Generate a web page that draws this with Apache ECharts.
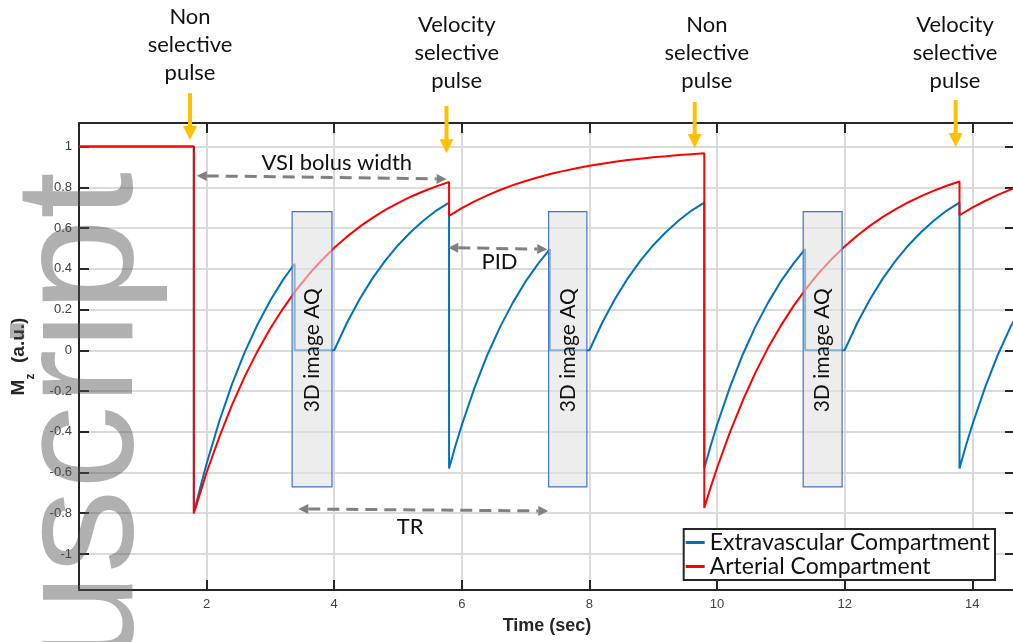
<!DOCTYPE html>
<html>
<head>
<meta charset="utf-8">
<script src="https://cdn.jsdelivr.net/npm/echarts@6/dist/echarts.min.js"></script>
<style>
html, body { margin: 0; padding: 0; background: #fff; }
#main { width: 1013px; height: 642px; }
</style>
</head>
<body>
<div id="main"></div>
<script>
// arterial compartment (red)
const arterialTime = [
    0, 1.8,
    1.8, 1.9, 2.0, 2.2, 2.4, 2.6, 2.8, 3.0, 3.2, 3.4, 3.6, 3.8, 4.0, 4.2, 4.4, 4.6, 4.8, 5.0, 5.2, 5.4, 5.6, 5.8,
    5.8, 6.0, 6.2, 6.4, 6.6, 6.8, 7.0, 7.2, 7.4, 7.6, 7.8, 8.0, 8.2, 8.4, 8.6, 8.8, 9.0, 9.2, 9.4, 9.6, 9.8,
    9.8, 9.9, 10.0, 10.2, 10.4, 10.6, 10.8, 11.0, 11.2, 11.4, 11.6, 11.8, 12.0, 12.2, 12.4, 12.6, 12.8, 13.0, 13.2, 13.4, 13.6, 13.8,
    13.8, 14.0, 14.2, 14.4, 14.6, 14.7
];
const arterialMz = [
    1, 1,
    -0.80, -0.70, -0.60, -0.425, -0.267, -0.127, -0.003, 0.108, 0.206, 0.294, 0.372, 0.441, 0.503, 0.558, 0.607, 0.650, 0.689, 0.723, 0.754, 0.781, 0.805, 0.826,
    0.66, 0.698, 0.731, 0.761, 0.787, 0.811, 0.831, 0.850, 0.867, 0.881, 0.894, 0.906, 0.916, 0.926, 0.934, 0.941, 0.948, 0.953, 0.959, 0.963, 0.967,
    -0.774, -0.673, -0.578, -0.404, -0.249, -0.111, 0.012, 0.121, 0.218, 0.304, 0.381, 0.449, 0.510, 0.564, 0.612, 0.655, 0.693, 0.727, 0.757, 0.784, 0.808, 0.829,
    0.663, 0.700, 0.733, 0.763, 0.789, 0.80
];

// extravascular compartment (blue)
const extraTime = [
    0, 1.8,
    1.8, 1.9, 2.0, 2.2, 2.4, 2.6, 2.8, 3.0, 3.2, 3.38,
    3.38, 4.0,
    4.2, 4.4, 4.6, 4.8, 5.0, 5.2, 5.4, 5.6, 5.8,
    5.8, 5.9, 6.0, 6.2, 6.4, 6.6, 6.8, 7.0, 7.2, 7.38,
    7.38, 8.0,
    8.2, 8.4, 8.6, 8.8, 9.0, 9.2, 9.4, 9.6, 9.8,
    9.8, 9.9, 10.0, 10.2, 10.4, 10.6, 10.8, 11.0, 11.2, 11.38,
    11.38, 12.0,
    12.2, 12.4, 12.6, 12.8, 13.0, 13.2, 13.4, 13.6, 13.8,
    13.8, 13.9, 14.0, 14.2, 14.4, 14.6, 14.7
];
const extraMz = [
    1, 1,
    -0.80, -0.674, -0.557, -0.347, -0.165, -0.008, 0.128, 0.246, 0.347, 0.425,
    0, 0,
    0.135, 0.252, 0.353, 0.440, 0.516, 0.581, 0.637, 0.686, 0.725,
    -0.58, -0.469, -0.367, -0.183, -0.023, 0.115, 0.234, 0.338, 0.427, 0.497,
    0, 0,
    0.135, 0.252, 0.353, 0.440, 0.516, 0.581, 0.637, 0.686, 0.725,
    -0.58, -0.469, -0.367, -0.183, -0.023, 0.115, 0.234, 0.338, 0.427, 0.497,
    0, 0,
    0.135, 0.252, 0.353, 0.440, 0.516, 0.581, 0.637, 0.686, 0.725,
    -0.58, -0.469, -0.367, -0.183, -0.023, 0.115, 0.17
];

const yTickValues = [-1, -0.8, -0.6, -0.4, -0.2, 0, 0.2, 0.4, 0.6, 0.8, 1];
const seriesNames = ['Extravascular Compartment', 'Arterial Compartment'];

// pulse arrows: time, top, tip  / labels: time, centre
const pulseArrows = [[1.74, 1.263, 1.033], [5.76, 1.200, 0.968], [9.65, 1.219, 0.993], [13.74, 1.229, 0.998]];
const pulseLabels = ['Non\nselective\npulse', 'Velocity\nselective\npulse', 'Non\nselective\npulse', 'Velocity\nselective\npulse'];
const pulseLabelPos = [[1.74, 1.499], [5.92, 1.460], [9.84, 1.460], [13.73, 1.460]];

// image acquisition windows
const acqStart = [3.34, 7.36, 11.35];
const acqEnd = [3.965, 7.96, 11.96];
const acqRange = [-0.671, 0.681];

// dashed interval arrows
const spans = [
    { name: 'VSI bolus width', from: [1.845, 0.857], to: [5.762, 0.841], label: [4.04, 0.920] },
    { name: 'PID', from: [5.787, 0.504], to: [7.339, 0.496], label: [6.59, 0.435] },
    { name: 'TR', from: [3.437, -0.779], to: [7.355, -0.789], label: [5.19, -0.866] }
];

const zip = (a, b) => a.map((t, i) => [t, b[i]]);
const frame = '#262626';
const annoFont = 'Lato, "Open Sans", sans-serif';

var option = {
    animation: false,
    grid: { left: 79, top: 123, width: 936, height: 467, outerBoundsMode: 'none', containLabel: false },
    legend: {
        orient: 'vertical',
        right: 18,
        bottom: 62,
        backgroundColor: '#fff',
        borderColor: frame,
        borderWidth: 2,
        borderRadius: 0,
        padding: [2, 5, 2, 2],
        itemGap: 1,
        itemWidth: 19,
        itemHeight: 3,
        icon: 'rect',
        textStyle: { fontFamily: annoFont, fontSize: 23, color: '#111' },
        data: seriesNames
    },
    xAxis: [{
        type: 'value', min: 0, max: 14.67, interval: 2,
        name: 'Time (sec)', nameLocation: 'middle', nameGap: 27,
        nameTextStyle: { fontFamily: 'Liberation Sans', fontWeight: 'bold', fontSize: 18, color: frame },
        axisLine: { show: true, onZero: false, lineStyle: { color: frame, width: 2 } },
        axisTick: { show: true, inside: true, length: 10, lineStyle: { color: frame, width: 2 } },
        axisLabel: {
            margin: 8, fontFamily: 'Liberation Sans', fontSize: 13, color: '#404040',
            showMaxLabel: false, showMinLabel: false
        },
        splitLine: { show: true, lineStyle: { color: '#dadada', width: 2 } }
    }, {
        type: 'value', min: 0, max: 14.67, interval: 2, position: 'top',
        axisLine: { show: true, onZero: false, lineStyle: { color: frame, width: 2 } },
        axisTick: { show: true, inside: true, length: 10, lineStyle: { color: frame, width: 2 } },
        axisLabel: { show: false },
        splitLine: { show: false }
    }],
    yAxis: [{
        type: 'value', min: -1.177, max: 1.116,
        name: '{b|M}{sub|z}{b|  (a.u.)}', nameLocation: 'middle', nameGap: 50, nameRotate: 90,
        nameTextStyle: {
            rich: {
                b: { fontFamily: 'Liberation Sans', fontWeight: 'bold', fontSize: 19, color: frame, lineHeight: 20 },
                sub: { fontFamily: 'Liberation Sans', fontWeight: 'bold', fontSize: 12, color: frame, lineHeight: 12, padding: [16, 0, 0, 0], verticalAlign: 'top' }
            }
        },
        axisLine: { show: true, onZero: false, lineStyle: { color: frame, width: 2 } },
        axisTick: { show: true, inside: true, length: 10, customValues: yTickValues, lineStyle: { color: frame, width: 2 } },
        axisLabel: {
            customValues: yTickValues, margin: 7,
            fontFamily: 'Liberation Sans', fontSize: 13, color: '#404040',
            formatter: v => String(v)
        },
        splitLine: { show: true, lineStyle: { color: '#dadada', width: 2 } }
    }, {
        type: 'value', min: -1.177, max: 1.116, position: 'right',
        axisLine: { show: true, onZero: false, lineStyle: { color: frame, width: 2 } },
        axisTick: { show: true, inside: true, length: 10, customValues: yTickValues, lineStyle: { color: frame, width: 2 } },
        axisLabel: { show: false },
        splitLine: { show: false }
    }],
    series: [{
        name: seriesNames[0],
        type: 'line',
        symbol: 'none',
        color: '#0072BD',
        lineStyle: { width: 2, color: '#0072BD' },
        data: zip(extraTime, extraMz)
    }, {
        name: seriesNames[1],
        type: 'line',
        symbol: 'none',
        color: '#FF0000',
        lineStyle: { width: 2, color: '#FF0000' },
        data: zip(arterialTime, arterialMz)
    }]
};

var myChart = echarts.init(document.getElementById('main'));
myChart.setOption(option);

function px(t, v) {
    return myChart.convertToPixel({ xAxisIndex: 0, yAxisIndex: 0 }, [t, v]);
}

function dashedArrow(a, b) {
    const p1 = px(a[0], a[1]), p2 = px(b[0], b[1]);
    const dx = p2[0] - p1[0], dy = p2[1] - p1[1];
    const len = Math.hypot(dx, dy);
    const ux = dx / len, uy = dy / len;
    const head = 10, half = 5;
    const out = [{
        type: 'line', z: 100,
        shape: { x1: p1[0] + ux * head, y1: p1[1] + uy * head, x2: p2[0] - ux * head, y2: p2[1] - uy * head },
        style: { stroke: '#808080', lineWidth: 3, lineDash: [12, 7] }
    }];
    [[p1, -1], [p2, 1]].forEach(function (e) {
        const p = e[0], s = e[1];
        const bx = p[0] - s * ux * head, by = p[1] - s * uy * head;
        out.push({
            type: 'polygon', z: 100,
            shape: { points: [[p[0], p[1]], [bx - uy * half, by + ux * half], [bx + uy * half, by - ux * half]] },
            style: { fill: '#808080' }
        });
    });
    return out;
}

var graphics = [];

// acquisition boxes
acqStart.forEach(function (t0, i) {
    const a = px(t0, acqRange[1]), b = px(acqEnd[i], acqRange[0]);
    graphics.push({
        type: 'rect', z: 90,
        shape: { x: a[0], y: a[1], width: b[0] - a[0], height: b[1] - a[1] },
        style: { fill: 'rgba(225,225,225,0.6)', stroke: '#4472C4', lineWidth: 1.2 }
    });
    graphics.push({
        type: 'text', z: 91,
        x: (a[0] + b[0]) / 2, y: px(t0, 0)[1], rotation: Math.PI / 2,
        style: { text: '3D image AQ', x: 0, y: 0, align: 'center', verticalAlign: 'middle', font: '21px ' + annoFont, fill: '#111' }
    });
});

// pulse arrows and labels
pulseArrows.forEach(function (p, i) {
    const top = px(p[0], p[1]), tip = px(p[0], p[2]);
    graphics.push({
        type: 'line', z: 100,
        shape: { x1: top[0], y1: top[1], x2: tip[0], y2: tip[1] - 12 },
        style: { stroke: '#FFC000', lineWidth: 4 }
    });
    graphics.push({
        type: 'polygon', z: 100,
        shape: { points: [[tip[0] - 7, tip[1] - 14], [tip[0] + 7, tip[1] - 14], [tip[0], tip[1]]] },
        style: { fill: '#FFC000' }
    });
    const c = px(pulseLabelPos[i][0], pulseLabelPos[i][1]);
    graphics.push({
        type: 'text', z: 100,
        style: { text: pulseLabels[i], x: c[0], y: c[1], align: 'center', verticalAlign: 'middle', font: '22px ' + annoFont, lineHeight: 28, fill: '#111' }
    });
});

// interval arrows
spans.forEach(function (s) {
    graphics = graphics.concat(dashedArrow(s.from, s.to));
    const c = px(s.label[0], s.label[1]);
    graphics.push({
        type: 'text', z: 100,
        style: { text: s.name, x: c[0], y: c[1], align: 'center', verticalAlign: 'middle', font: '22px ' + annoFont, fill: '#111' }
    });
});

// manuscript watermark
graphics.push({
    type: 'text', z: 200,
    x: 86, y: 172, rotation: Math.PI / 2,
    style: { text: 'Author Manuscript', x: 0, y: 0, align: 'right', verticalAlign: 'middle', font: '168px "Liberation Sans"', fill: 'rgba(80,80,80,0.45)' }
});

myChart.setOption({ graphic: graphics });
</script>
</body>
</html>
